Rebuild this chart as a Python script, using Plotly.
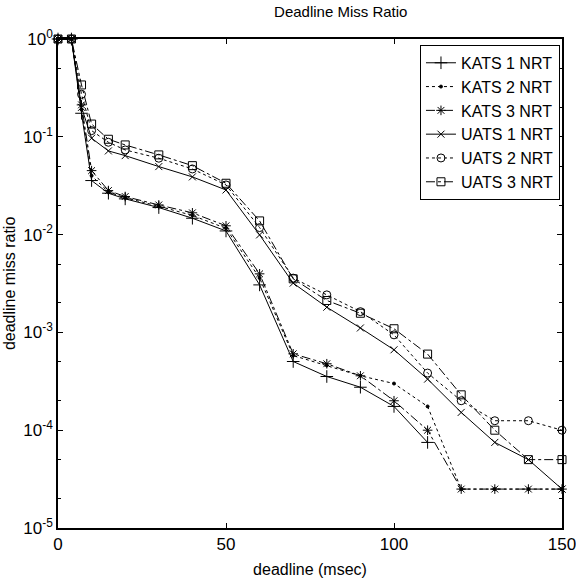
import plotly.graph_objects as go

# deadline values (msec)
deadline = [0, 4, 7, 10, 15, 20, 30, 40, 50, 60, 70, 80, 90, 100, 110, 120, 130, 140, 150]

# deadline miss ratio per scheme (None = no misses recorded)
kats1 = [1, 1, 0.174, 0.0357, 0.0265, 0.0232, 0.0189, 0.0147, 0.0109, 0.00306,
         0.000504, 0.000354, 0.000275, 0.000175, 0.000075, None, None, None, None]
kats2 = [1, 1, 0.19, 0.040, 0.0272, 0.0238, 0.0195, 0.0157, 0.0116, 0.0036,
         0.00058, 0.00046, 0.00036, 0.0003, 0.000175, 0.000025, 0.000025, 0.000025, 0.000025]
kats3 = [1, 1, 0.212, 0.0451, 0.0282, 0.0245, 0.0201, 0.0167, 0.0123, 0.00397,
         0.000604, 0.000478, 0.00036, 0.0002, 0.0001, 0.000025, 0.000025, 0.000025, 0.000025]
uats1 = [1, 1, 0.20, 0.0967, 0.0717, 0.0642, 0.0496, 0.0389, 0.0286, 0.00993,
         0.00319, 0.00181, 0.00111, 0.000664, 0.000333, 0.000152, 0.000075, 0.00005, 0.000025]
uats2 = [1, 1, 0.272, 0.1156, 0.0879, 0.0734, 0.0604, 0.0469, 0.0322, 0.0118,
         0.00359, 0.00242, 0.00163, 0.000944, 0.000384, 0.0002, 0.000125, 0.000125, 0.0001]
uats3 = [1, 1, 0.339, 0.135, 0.0944, 0.0826, 0.0653, 0.0507, 0.0335, 0.0138,
         0.00353, 0.00212, 0.00157, 0.00109, 0.0006, 0.00023, 0.0001, 0.00005, 0.00005]

series = [
    ("KATS 1 NRT", kats1, "solid", "cross-thin-open", 9),
    ("KATS 2 NRT", kats2, "dot", "circle", 3),
    ("KATS 3 NRT", kats3, "dashdot", "asterisk-open", 8),
    ("UATS 1 NRT", uats1, "solid", "x-thin-open", 7),
    ("UATS 2 NRT", uats2, "dot", "circle-open", 8),
    ("UATS 3 NRT", uats3, "dashdot", "square-open", 8),
]

ytick_vals = [1, 0.1, 0.01, 0.001, 0.0001, 0.00001]
ytick_text = ["10<sup>0</sup>", "10<sup>-1</sup>", "10<sup>-2</sup>",
              "10<sup>-3</sup>", "10<sup>-4</sup>", "10<sup>-5</sup>"]

FONT = "Liberation Sans, Arial, Helvetica, sans-serif"

fig = go.Figure()
for name, vals, dash, symbol, size in series:
    fig.add_trace(go.Scatter(
        x=deadline, y=vals, name=name, mode="lines+markers",
        line=dict(color="black", width=1, dash=dash),
        marker=dict(symbol=symbol, size=size, color="black",
                    line=dict(color="black", width=1)),
        cliponaxis=False,
    ))

fig.update_layout(
    width=576, height=578,
    margin=dict(l=58, r=14, t=39, b=50, autoexpand=False),
    paper_bgcolor="white", plot_bgcolor="white",
    font=dict(family=FONT, color="black", size=16),
    title=dict(text="Deadline Miss Ratio", x=0.561, xanchor="center", xref="paper",
               y=0.979, yanchor="middle", font=dict(size=15)),
    showlegend=True,
    legend=dict(x=0.996, y=0.988, xanchor="right", yanchor="top",
                bgcolor="white", bordercolor="black", borderwidth=1,
                font=dict(size=16), tracegroupgap=0),
    annotations=[dict(text="deadline miss ratio", textangle=-90,
                      xref="paper", yref="paper", x=-0.096, y=0.5,
                      xanchor="center", yanchor="middle", showarrow=False,
                      font=dict(size=16))],
)

fig.update_xaxes(
    range=[0, 150], tickvals=[0, 50, 100, 150],
    ticks="inside", ticklen=5, tickcolor="black",
    showline=True, linecolor="black", linewidth=1.5, mirror="ticks",
    showgrid=False, zeroline=False, automargin=False,
    ticklabeloverflow="allow",
    tickfont=dict(size=17),
    title=dict(text="deadline (msec)", font=dict(size=16)),
)
fig.update_yaxes(
    type="log", range=[-5, 0],
    tickvals=ytick_vals, ticktext=ytick_text,
    ticks="inside", ticklen=5, tickcolor="black",
    minor=dict(ticks="inside", ticklen=3, tickcolor="black", showgrid=False),
    showline=True, linecolor="black", linewidth=1.5, mirror="ticks",
    showgrid=False, zeroline=False, automargin=False,
    ticklabeloverflow="allow",
    tickfont=dict(size=17),
)

fig.write_html("out.html")
